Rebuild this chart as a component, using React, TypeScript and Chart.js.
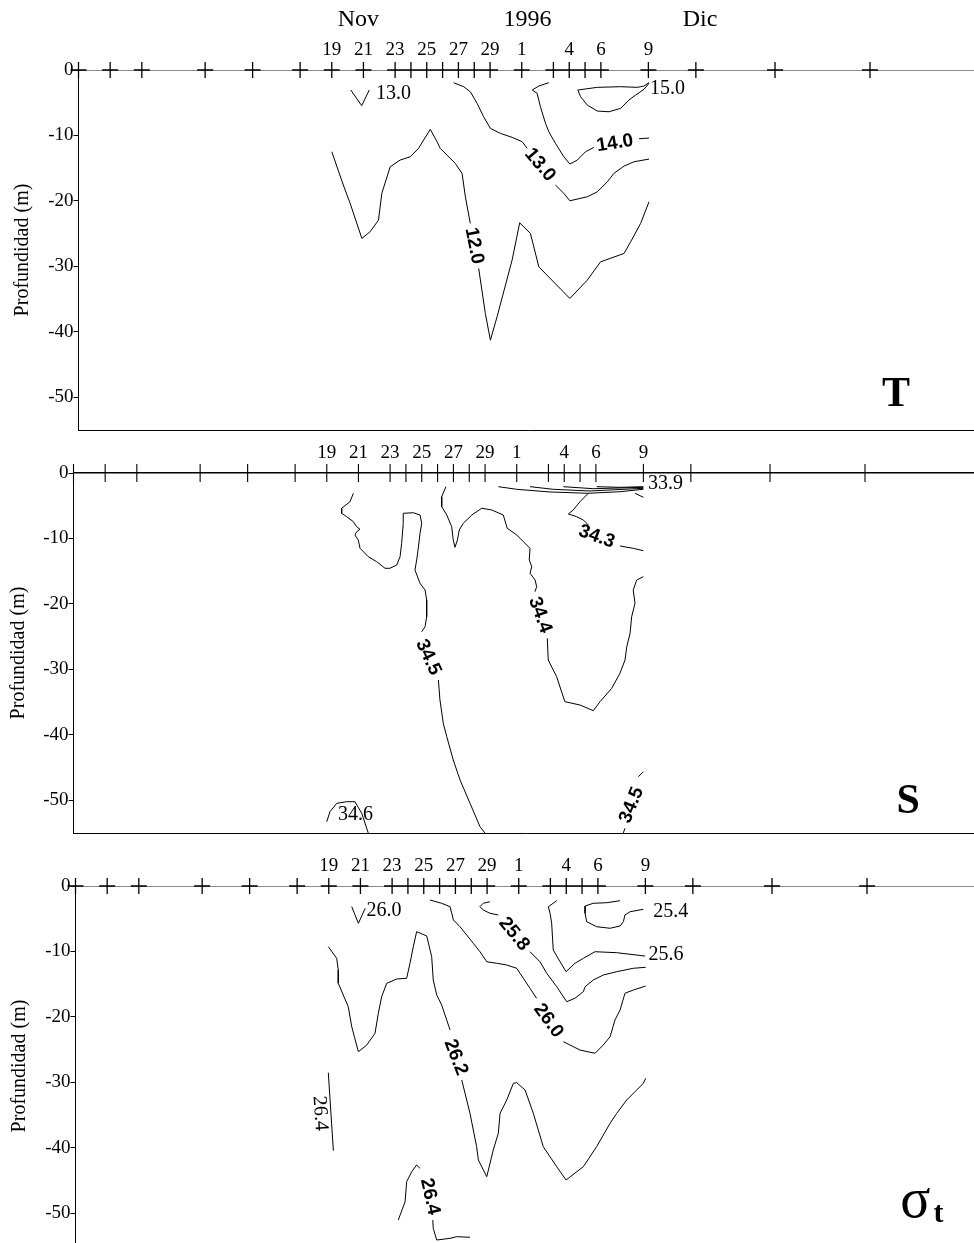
import React, { useEffect, useRef } from 'react';
import { Chart, registerables } from 'chart.js';

Chart.register(...registerables);

type Pt = [number, number] | null;
type Lab = { t: string; x: number; y: number; a: number; align: 'left' | 'center' };
type Letter = { t: string; x: number; y: number; font: string };

const SERIF = '"Liberation Serif", "Times New Roman", serif';
const SANS = '"Liberation Sans", Arial, sans-serif';

// ---------- axis data (days counted from 1 Nov 1996) ----------
const X_MIN = 3;
const PX_PER_DAY = 15.83;
const PX_PER_M = 6.545;
const CANVAS_W = 990;
const tickDays = [3, 5, 7, 11, 14, 17, 19, 21, 23, 24, 25, 26, 27, 28, 29, 31, 33, 34, 35, 36, 39, 42, 47, 53];
const labeledDays = [19, 21, 23, 25, 27, 29, 31, 34, 36, 39];
const dayLabels = ['19', '21', '23', '25', '27', '29', '1', '4', '6', '9'];
const monthDays = [20.68, 31.36, 42.26];
const monthLabels = ['Nov', '1996', 'Dic'];
const depthTicks = [0, -10, -20, -30, -40, -50];

// ---------- T panel isolines (day, depth) ----------
const t13small: Pt[] = [[20.2, -3.06], [20.89, -5.45], [21.37, -3.06]];
const t12: Pt[] = [
  [19.0, -12.49], [19.73, -17.58], [20.16, -20.38], [20.9, -25.73], [21.42, -24.72], [21.95, -22.94],
  [22.16, -18.85], [22.69, -14.79], [23.32, -13.76], [23.96, -13.26], [24.48, -11.97], [25.22, -9.07],
  [25.65, -10.96], [25.85, -11.97], [26.8, -14.27], [27.23, -15.8], [27.44, -19.37], [27.75, -23.44], null,
  [28.28, -30.32], [28.7, -37.2], [29.02, -41.28], [29.44, -37.72], [30.39, -29.05], [30.87, -23.35],
  [31.55, -24.97], [32.08, -30.08], [34.04, -34.91], [35.14, -32.11], [35.98, -29.31], [37.46, -28.03],
  [37.88, -26.25], [38.51, -23.44], [39.04, -20.14],
];
const t13: Pt[] = [
  [26.7, -1.94], [27.33, -2.55], [27.75, -3.32], [28.18, -5.09], [28.59, -7.14], [29.02, -8.91],
  [29.65, -9.68], [30.39, -10.29], [31.03, -10.96], [31.34, -11.97], null,
  [33.13, -17.58], [33.66, -18.85], [34.04, -19.98], [35.14, -19.37], [35.77, -18.61], [36.41, -17.08],
  [36.82, -15.8], [37.46, -14.68], [38.09, -14.02], [39.04, -13.61],
];
const t14: Pt[] = [
  [32.71, -1.94], [32.08, -2.45], [31.66, -3.06], [31.97, -3.56], [32.18, -5.61], [32.5, -8.15],
  [32.71, -9.43], [33.13, -11.21], [33.66, -13.26], [34.04, -14.37], [34.51, -13.76], [35.03, -12.49],
  [35.56, -11.82], null, [38.41, -10.5], [39.04, -10.4],
];
const t15: Pt[] = [
  [39.04, -1.94], [38.72, -2.45], [38.3, -2.65], [37.25, -2.55], [35.77, -2.65], [34.54, -3.06],
  [34.72, -4.08], [35.14, -5.35], [35.77, -6.27], [36.51, -6.38], [37.25, -5.86], [37.77, -4.59],
  [38.2, -3.82], [38.72, -2.95], [39.04, -2.03],
];
const tBold: Lab[] = [
  { t: '14.0', x: 36.89, y: -11.2, a: -9, align: 'center' },
  { t: '13.0', x: 32.15, y: -14.5, a: 50, align: 'center' },
  { t: '12.0', x: 28.0, y: -26.86, a: 79, align: 'center' },
];
const tSerif: Lab[] = [
  { t: '13.0', x: 21.79, y: -3.67, a: 0, align: 'left' },
  { t: '15.0', x: 39.1, y: -2.8, a: 0, align: 'left' },
];
const tLetters: Letter[] = [{ t: 'T', x: 54.64, y: -51.3, font: `bold 42px ${SERIF}` }];

// ---------- S panel isolines ----------
const s339a: Pt[] = [[29.84, -2.09], [31.0, -2.49], [33.1, -2.9], [35.52, -3.1], [37.52, -2.86], [39.0, -2.49]];
const s339b: Pt[] = [[31.84, -2.09], [33.31, -2.49], [35.63, -2.75], [39.0, -2.34]];
const s339c: Pt[] = [[33.94, -2.09], [35.84, -2.4], [39.0, -2.19]];
const s339d: Pt[] = [[36.05, -2.09], [37.52, -2.19], [39.0, -2.09]];
const s339e: Pt[] = [[38.47, -3.1], [39.0, -3.71]];
const s343: Pt[] = [
  [35.52, -3.1], [35.0, -4.38], [34.57, -5.65], [34.26, -6.26], [34.79, -6.68], [35.21, -7.18], [35.52, -7.94], null,
  [37.52, -11.15], [38.36, -11.51], [39.0, -11.87],
];
const s344: Pt[] = [
  [26.53, -2.09], [26.26, -3.62], [26.26, -5.15], [26.58, -6.42], [26.89, -8.2], [26.99, -10.24], [27.1, -11.35],
  [27.25, -10.24], [27.37, -8.71], [27.62, -7.69], [28.16, -6.42], [28.79, -5.39], [29.42, -5.65], [30.15, -6.42],
  [30.4, -8.45], [31.0, -9.47], [31.42, -10.5], [31.84, -11.5], [31.79, -13.29], [31.95, -14.32], [31.84, -15.32],
  [32.16, -16.35], [32.26, -17.37], [32.15, -18.14], null,
  [32.93, -25.26], [32.99, -28.57], [33.52, -31.12], [34.04, -34.94], [35.0, -35.45], [35.84, -36.32], [36.26, -34.94],
  [37.0, -32.9], [37.52, -30.6], [37.84, -28.57], [37.95, -26.54], [38.16, -24.49], [38.26, -21.96], [38.47, -19.91],
  [38.36, -17.88], [38.58, -16.35], [39.0, -15.84],
];
const s345: Pt[] = [
  [20.68, -3.1], [20.47, -4.38], [19.94, -5.39], [19.94, -6.16], [20.26, -6.68], [20.68, -7.44], [20.89, -8.2],
  [21.1, -8.6], [20.89, -8.97], [20.78, -9.47], [20.99, -10.24], [21.1, -11.5], [21.62, -12.79], [22.15, -13.55],
  [22.68, -14.56], [22.99, -14.56], [23.42, -14.06], [23.63, -12.79], [23.73, -10.74], [23.83, -7.69], [23.83, -6.16],
  [24.47, -6.07], [24.89, -6.42], [25.0, -7.69], [24.89, -9.21], [24.78, -11.5], [24.68, -13.29], [24.57, -14.82],
  [24.89, -16.85], [25.21, -17.88], [25.31, -19.4], [25.31, -21.96], [25.21, -23.48], [25.0, -24.25], null,
  [26.05, -31.63], [26.15, -34.68], [26.36, -38.24], [26.58, -40.29], [26.99, -43.85], [27.42, -46.91],
  [28.05, -50.47], [28.68, -54.04], [28.99, -55.0],
];
const s345b: Pt[] = [[39.0, -45.64], [38.68, -46.4], null, [37.84, -54.28], [37.73, -55.0]];
const s346: Pt[] = [[19.0, -53.28], [19.2, -51.75], [19.63, -50.47], [20.26, -50.22], [20.78, -50.22], [21.21, -52.0], [21.62, -55.0]];
const sBold: Lab[] = [
  { t: '34.3', x: 36.05, y: -9.73, a: 20, align: 'center' },
  { t: '34.4', x: 32.47, y: -21.7, a: 70, align: 'center' },
  { t: '34.5', x: 25.41, y: -28.16, a: 65, align: 'center' },
  { t: '34.5', x: 38.26, y: -50.73, a: -68, align: 'center' },
];
const sSerif: Lab[] = [
  { t: '33.9', x: 39.29, y: -1.57, a: 0, align: 'left' },
  { t: '34.6', x: 19.71, y: -52.25, a: 0, align: 'left' },
];
const sLetters: Letter[] = [{ t: 'S', x: 55.72, y: -51.95, font: `bold 42px ${SERIF}` }];

// ---------- sigma-t panel isolines ----------
const g260small: Pt[] = [[20.45, -3.16], [20.87, -5.7], [21.3, -3.41]];
const g262: Pt[] = [
  [18.97, -9.27], [19.5, -11.05], [19.6, -12.83], [19.6, -14.87], [20.23, -18.44], [20.45, -21.5], [20.87, -25.32],
  [21.4, -24.29], [21.92, -22.51], [22.13, -19.45], [22.34, -16.91], [22.66, -14.87], [23.29, -14.21], [23.92, -14.1],
  [24.13, -11.81], [24.34, -9.27], [24.55, -6.98], [25.19, -7.64], [25.5, -10.8], [25.6, -14.36], [25.82, -16.65],
  [26.13, -18.18], [26.45, -20.47], [26.66, -22.0], null,
  [27.4, -29.64], [27.92, -34.73], [28.34, -39.83], [28.45, -41.86], [28.98, -44.42], [29.39, -40.34], [29.71, -37.78],
  [29.82, -34.73], [30.24, -32.7], [30.66, -30.15], [30.87, -30.05], [31.4, -31.17], [31.92, -34.73], [32.55, -39.83],
  [33.4, -42.89], [33.99, -44.92], [35.08, -42.89], [35.92, -39.83], [36.77, -36.26], [37.19, -34.73], [37.82, -32.7],
  [38.45, -31.17], [38.87, -30.15], [39.02, -29.38],
];
const g260: Pt[] = [
  [25.39, -2.14], [26.13, -2.64], [26.66, -3.16], [26.77, -4.17], [26.87, -5.19], [27.29, -6.22], [27.71, -7.49],
  [28.13, -8.76], [28.55, -10.04], [28.98, -11.57], [29.61, -11.81], [30.24, -12.07], [30.87, -12.57], [31.29, -14.1],
  [31.71, -15.63], [32.13, -17.16], null,
  [33.82, -23.79], [34.87, -25.06], [35.82, -25.56], [36.34, -24.29], [36.77, -23.03], [37.08, -20.47], [37.4, -18.95],
  [37.71, -16.39], [38.24, -15.89], [39.02, -15.28],
];
const g258: Pt[] = [
  [29.18, -2.4], [28.76, -2.64], [28.55, -3.16], [28.76, -3.67], [29.18, -4.17], [29.71, -4.43], null,
  [31.71, -10.04], [32.34, -11.57], [32.77, -13.34], [33.4, -15.39], [34.03, -17.68], [34.55, -17.16], [35.08, -16.15],
  [35.19, -15.39], [35.71, -14.36], [36.34, -13.6], [37.19, -13.09], [38.24, -12.57], [39.02, -12.42],
];
const g256: Pt[] = [
  [33.4, -2.25], [32.87, -3.16], [32.98, -4.17], [33.08, -5.7], [33.18, -9.78], [33.61, -11.57], [33.99, -13.09],
  [34.55, -11.81], [35.08, -11.05], [35.82, -10.04], [37.19, -10.19], [38.98, -10.7],
];
const g254: Pt[] = [
  [37.4, -2.25], [36.56, -2.55], [35.71, -2.64], [35.19, -3.06], [35.19, -4.17], [35.29, -5.45], [35.92, -6.22],
  [36.77, -6.46], [37.4, -6.11], [37.61, -5.45], [37.71, -4.43], [38.03, -3.93], [38.87, -3.56],
];
const g264a: Pt[] = [[18.97, -28.52], [19.29, -40.44]];
const g264b: Pt[] = [
  [23.39, -51.03], [23.82, -48.24], [23.92, -45.18], [24.24, -43.65], [24.55, -42.63], [24.76, -43.13], null,
  [25.57, -51.03], [25.6, -52.3], [25.82, -54.09], [26.66, -53.83], [27.08, -53.58], [27.92, -53.67],
];
const gBold: Lab[] = [
  { t: '25.8', x: 30.7, y: -7.33, a: 51, align: 'center' },
  { t: '26.0', x: 32.87, y: -20.58, a: 54, align: 'center' },
  { t: '26.2', x: 27.02, y: -26.17, a: 69, align: 'center' },
  { t: '26.4', x: 25.39, y: -47.47, a: 77, align: 'center' },
];
const gSerif: Lab[] = [
  { t: '26.0', x: 21.39, y: -3.74, a: 0, align: 'left' },
  { t: '25.4', x: 39.5, y: -3.97, a: 0, align: 'left' },
  { t: '25.6', x: 39.19, y: -10.54, a: 0, align: 'left' },
  { t: '26.4', x: 18.45, y: -34.73, a: 86, align: 'center' },
];
const gLetters: Letter[] = [
  { t: 'σ', x: 55.1, y: -50.57, font: `56px ${SERIF}` },
  { t: 't', x: 57.2, y: -51.34, font: `bold 30px ${SERIF}` },
];

interface PanelSpec {
  top: number;
  height: number;
  axisLeft: number;
  topAxes: number;
  months: boolean;
  tickStyle: 'cross' | 'line';
  axisColor: string;
  axisWidth: number;
  titlePad: number;
  lines: Pt[][];
  bold: Lab[];
  serif: Lab[];
  letters: Letter[];
}

const PANELS: PanelSpec[] = [
  {
    top: 0, height: 442, axisLeft: 78.5, topAxes: 70, months: true, tickStyle: 'cross', axisColor: '#8a8a8a', axisWidth: 1,
    titlePad: 11, lines: [t13small, t12, t13, t14, t15], bold: tBold, serif: tSerif, letters: tLetters,
  },
  {
    top: 437, height: 408, axisLeft: 73.5, topAxes: 36, months: false, tickStyle: 'line', axisColor: '#000', axisWidth: 1.5,
    titlePad: 7, lines: [s339a, s339b, s339c, s339d, s339e, s343, s344, s345, s345b, s346], bold: sBold, serif: sSerif, letters: sLetters,
  },
  {
    top: 850, height: 408, axisLeft: 75.5, topAxes: 36, months: false, tickStyle: 'cross', axisColor: '#8a8a8a', axisWidth: 1,
    titlePad: 8, lines: [g260small, g262, g260, g258, g256, g254, g264a, g264b], bold: gBold, serif: gSerif, letters: gLetters,
  },
];

function toData(pts: Pt[]) {
  return pts.map((p, i) => {
    if (p) return { x: p[0], y: p[1] };
    const prev = pts[i - 1] as [number, number];
    return { x: prev[0], y: null };
  });
}

function annotPlugin(spec: PanelSpec) {
  return {
    id: 'annot',
    afterDatasetsDraw(chart: any) {
      const { ctx, scales } = chart;
      const xs = scales.x;
      const ys = scales.y;
      ctx.save();
      ctx.fillStyle = '#000';
      const drawLab = (l: Lab, font: string) => {
        ctx.save();
        ctx.translate(xs.getPixelForValue(l.x), ys.getPixelForValue(l.y));
        ctx.rotate((l.a * Math.PI) / 180);
        ctx.font = font;
        ctx.textAlign = l.align;
        ctx.textBaseline = 'middle';
        ctx.fillText(l.t, 0, 0);
        ctx.restore();
      };
      spec.bold.forEach((l) => drawLab(l, `bold 19px ${SANS}`));
      spec.serif.forEach((l) => drawLab(l, `20px ${SERIF}`));
      spec.letters.forEach((l) => {
        ctx.font = l.font;
        ctx.textAlign = 'left';
        ctx.textBaseline = 'alphabetic';
        const w = l.t === 'T' || l.t === 'S' ? ctx.measureText(l.t).width / 2 : 0;
        ctx.fillText(l.t, xs.getPixelForValue(l.x) - w, ys.getPixelForValue(l.y));
      });
      ctx.restore();
    },
  };
}

function makeConfig(spec: PanelSpec): any {
  const xmax = X_MIN + (CANVAS_W - spec.axisLeft) / PX_PER_DAY;
  const datasets: any[] = spec.lines.map((pts) => ({
    data: toData(pts),
    borderColor: '#000',
    borderWidth: 1,
    pointRadius: 0,
    tension: 0,
    fill: false,
    spanGaps: false,
  }));
  const cross = spec.tickStyle === 'cross';
  datasets.push({
    data: tickDays.map((d) => ({ x: d, y: 0 })),
    showLine: false,
    pointStyle: cross ? 'cross' : 'line',
    pointRotation: cross ? 0 : 90,
    pointRadius: cross ? 8 : 9,
    pointBorderColor: '#000',
    pointBackgroundColor: '#000',
    pointBorderWidth: cross ? 1.3 : 1.1,
    clip: false,
  });

  const scales: any = {
    x: {
      type: 'linear',
      position: 'top',
      min: X_MIN,
      max: xmax,
      weight: 0,
      afterBuildTicks: (s: any) => {
        s.ticks = labeledDays.map((v) => ({ value: v }));
      },
      afterFit: (s: any) => {
        s.height = spec.months ? 36 : spec.topAxes;
      },
      ticks: {
        autoSkip: false,
        maxRotation: 0,
        minRotation: 0,
        padding: 9,
        color: '#000',
        font: { family: SERIF, size: 19 },
        callback: (_v: any, i: number) => dayLabels[i],
      },
      grid: { display: false, drawTicks: false },
      border: { display: true, color: spec.axisColor, width: spec.axisWidth },
    },
    xb: {
      type: 'linear',
      position: 'bottom',
      min: X_MIN,
      max: xmax,
      ticks: { display: false },
      grid: { display: false, drawTicks: false },
      border: { display: true, color: '#000', width: 1 },
      afterFit: (s: any) => {
        s.height = 0;
      },
    },
    y: {
      type: 'linear',
      position: 'left',
      min: -55,
      max: 0,
      afterBuildTicks: (s: any) => {
        s.ticks = depthTicks.map((v) => ({ value: v }));
      },
      afterFit: (s: any) => {
        s.width = spec.axisLeft;
      },
      ticks: {
        padding: 0,
        color: '#000',
        font: { family: SERIF, size: 19 },
        callback: (v: any) => String(v),
      },
      grid: { display: true, drawOnChartArea: false, drawTicks: true, tickLength: 5, color: '#000', lineWidth: 1 },
      border: { display: true, color: '#000', width: 1 },
      title: {
        display: true,
        text: 'Profundidad (m)',
        color: '#000',
        font: { family: SERIF, size: 20 },
        padding: { top: spec.titlePad, bottom: 0 },
      },
    },
  };
  if (spec.months) {
    scales.xm = {
      type: 'linear',
      position: 'top',
      min: X_MIN,
      max: xmax,
      weight: 1,
      afterBuildTicks: (s: any) => {
        s.ticks = monthDays.map((v) => ({ value: v }));
      },
      afterFit: (s: any) => {
        s.height = spec.topAxes - 36;
      },
      ticks: {
        autoSkip: false,
        maxRotation: 0,
        minRotation: 0,
        padding: 0,
        color: '#000',
        font: { family: SERIF, size: 24 },
        callback: (_v: any, i: number) => monthLabels[i],
      },
      grid: { display: false, drawTicks: false },
      border: { display: false },
    };
  }

  return {
    type: 'line',
    data: { datasets },
    options: {
      responsive: false,
      maintainAspectRatio: false,
      animation: false,
      events: [],
      layout: { padding: { top: 0, left: 0, right: 0, bottom: 12 } },
      plugins: { legend: { display: false }, tooltip: { enabled: false } },
      scales,
    },
    plugins: [annotPlugin(spec)],
  };
}

function Panel({ spec }: { spec: PanelSpec }) {
  const ref = useRef<HTMLCanvasElement | null>(null);
  useEffect(() => {
    if (!ref.current) return;
    const chart: any = new Chart(ref.current, makeConfig(spec));
    // fit the value ranges to the laid-out plot area so that the day / depth scales keep their true spacing
    const ca = chart.chartArea;
    const xmax = X_MIN + (ca.right - ca.left) / PX_PER_DAY;
    const ymin = -(ca.bottom - ca.top) / PX_PER_M;
    ['x', 'xb', 'xm'].forEach((id) => {
      if (chart.options.scales[id]) chart.options.scales[id].max = xmax;
    });
    chart.options.scales.y.min = ymin;
    chart.update('none');
    return () => chart.destroy();
  }, [spec]);
  return (
    <canvas
      ref={ref}
      width={CANVAS_W}
      height={spec.height}
      style={{ position: 'absolute', left: 0, top: spec.top, width: CANVAS_W, height: spec.height, display: 'block' }}
    />
  );
}

export default function App() {
  return (
    <div style={{ position: 'absolute', left: 0, top: 0, width: 974, height: 1243, overflow: 'hidden', background: '#fff' }}>
      {PANELS.map((p, i) => (
        <Panel key={i} spec={p} />
      ))}
    </div>
  );
}
